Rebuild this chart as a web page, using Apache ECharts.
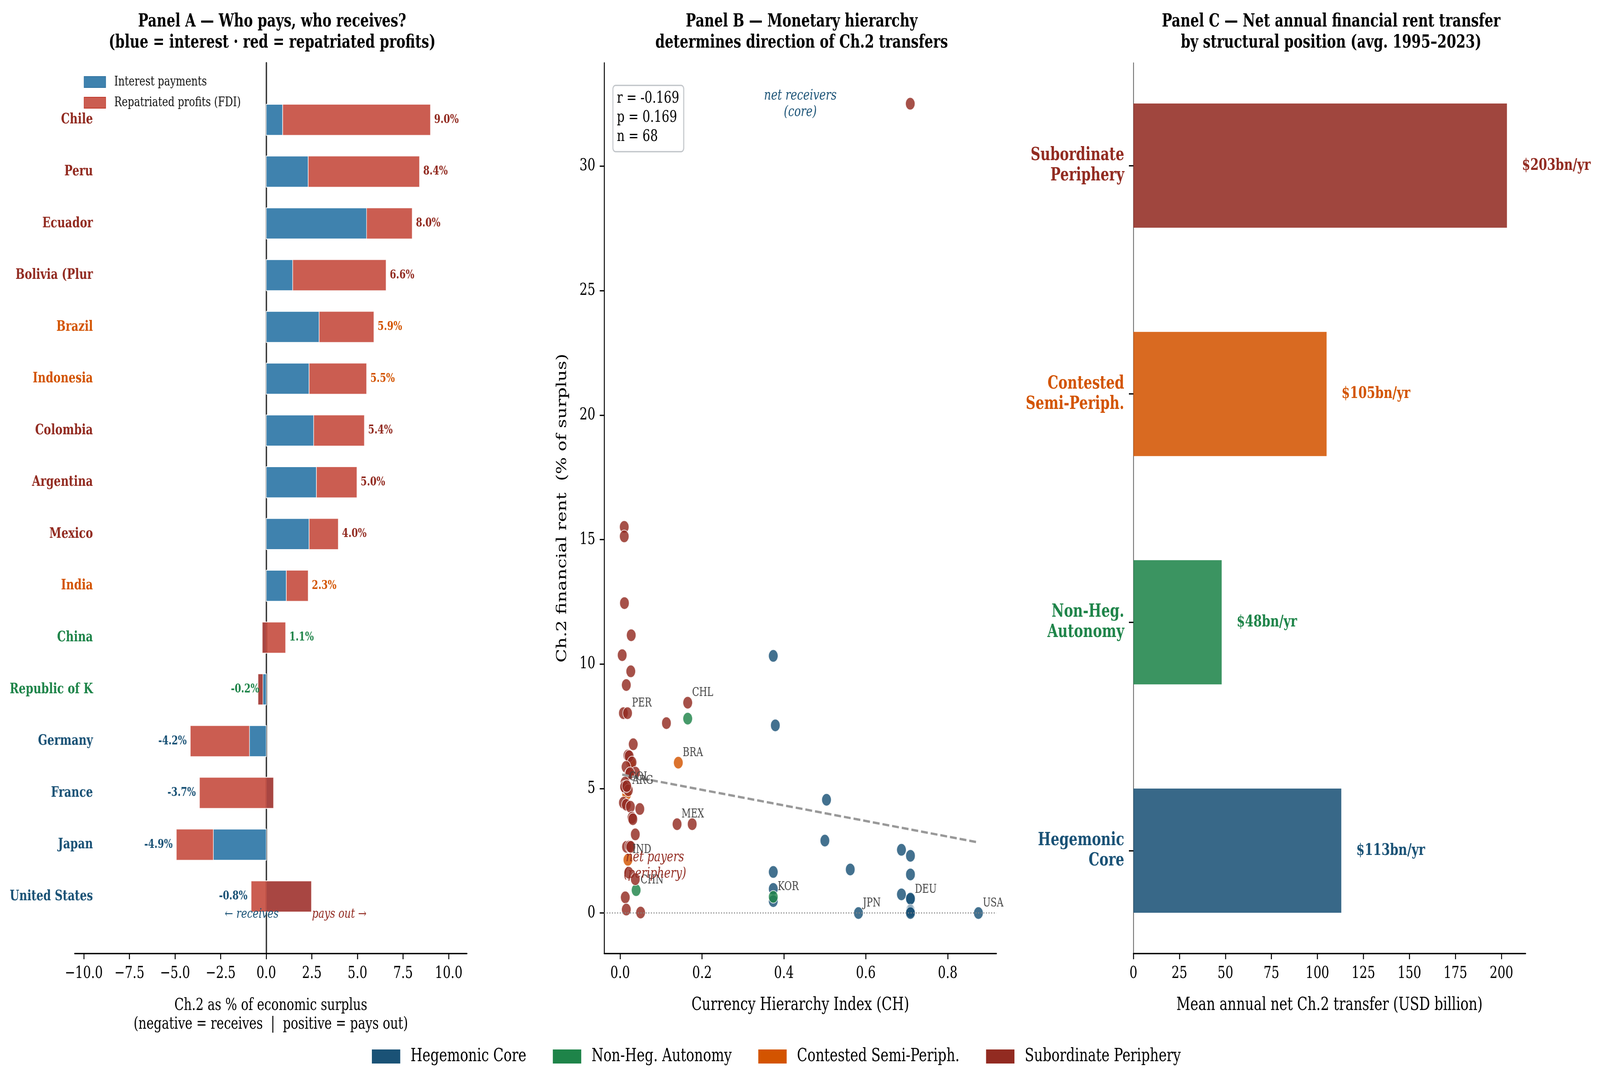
<!DOCTYPE html>
<html lang="en">
<head>
<meta charset="UTF-8">
<title>Ch.2 financial rent transfers</title>
<script src="https://cdn.jsdelivr.net/npm/echarts@6/dist/echarts.min.js"></script>
<style>
  html, body { margin: 0; padding: 0; background: #fff; overflow: hidden; width: 100%; height: 100%; }
  #wrap { position: fixed; left: 0; top: 0; width: 100vw; height: 100vh; overflow: hidden; background: #fff; }
  #main { position: absolute; left: 0; top: 0; width: 5421px; height: 2778px; transform-origin: 0 0; }
</style>
</head>
<body>
<div id="wrap"><div id="main"></div></div>
<script>
// ---------- Panel A: Ch.2 as % of economic surplus ----------
var countries = ['Chile', 'Peru', 'Ecuador', 'Bolivia (Plur', 'Brazil', 'Indonesia', 'Colombia', 'Argentina',
                 'Mexico', 'India', 'China', 'Republic of K', 'Germany', 'France', 'Japan', 'United States'];
var countryGroup = ['sub', 'sub', 'sub', 'sub', 'con', 'con', 'sub', 'sub', 'sub', 'con', 'non', 'non', 'heg', 'heg', 'heg', 'heg'];
var interestPay  = [0.9, 2.3, 5.5, 1.45, 2.9, 2.35, 2.6, 2.75, 2.35, 1.1, -0.22, -0.45, -0.92, 0.4, -2.9, 2.48];
var repatProfits = [8.1, 6.1, 2.5, 5.12, 3.0, 3.15, 2.78, 2.22, 1.6, 1.2, 1.28, 0.27, -3.24, -4.06, -2.03, -3.31];
var netShare     = [9.0, 8.4, 8.0, 6.6, 5.9, 5.5, 5.4, 5.0, 4.0, 2.3, 1.1, -0.2, -4.2, -3.7, -4.9, -0.8];
var ticksA = [-10, -7.5, -5, -2.5, 0, 2.5, 5, 7.5, 10];

// ---------- Panel B: currency hierarchy vs Ch.2 rent ----------
var hegCH   = [0.374, 0.379, 0.504, 0.500, 0.562, 0.687, 0.709, 0.709, 0.687, 0.709, 0.709, 0.709, 0.709, 0.709, 0.582, 0.875, 0.374, 0.374, 0.374];
var hegRent = [10.33, 7.54, 4.55, 2.91, 1.75, 2.54, 2.30, 1.55, 0.75, 0.55, 0.58, 0.10, 0.05, 0.0, 0.0, 0.0, 1.65, 0.97, 0.48];
var nonCH   = [0.165, 0.039, 0.374];
var nonRent = [7.81, 0.92, 0.65];
var conCH   = [0.142, 0.019, 0.016, 0.026];
var conRent = [6.04, 2.14, 4.78, 6.03];
var subCH   = [0.010, 0.010, 0.0105, 0.027, 0.005, 0.026, 0.015, 0.008, 0.018, 0.113, 0.165, 0.032, 0.019, 0.022,
               0.029, 0.0145, 0.0375, 0.022, 0.024, 0.012, 0.012, 0.011, 0.020, 0.008, 0.015, 0.025, 0.048, 0.029,
               0.031, 0.139, 0.176, 0.037, 0.0155, 0.023, 0.026, 0.021, 0.037, 0.0125, 0.015, 0.050, 0.7085, 0.016];
var subRent = [15.51, 15.13, 12.45, 11.16, 10.36, 9.71, 9.16, 8.03, 8.03, 7.63, 8.45, 6.78, 6.33, 6.30,
               6.05, 5.87, 5.64, 5.58, 5.62, 5.24, 5.04, 5.07, 4.93, 4.43, 4.35, 4.27, 4.18, 3.83,
               3.77, 3.57, 3.57, 3.16, 2.66, 2.68, 2.66, 1.62, 1.36, 0.63, 0.14, 0.02, 32.51, 5.10];
var codeNames = ['PER', 'CHL', 'BRA', 'COL', 'ARG', 'MEX', 'IND', 'CHN', 'KOR', 'JPN', 'DEU', 'USA'];
var codeCH    = [0.018, 0.165, 0.142, 0.011, 0.019, 0.139, 0.019, 0.039, 0.374, 0.582, 0.709, 0.875];
var codeRent  = [8.03, 8.45, 6.04, 5.07, 4.92, 3.57, 2.14, 0.92, 0.65, 0.0, 0.55, 0.0];
var trendCH   = [0.005, 0.871];
var trendRent = [5.56, 2.85];
var ticksBx = [0, 0.2, 0.4, 0.6, 0.8];
var ticksBy = [0, 5, 10, 15, 20, 25, 30];

// ---------- Panel C: mean annual net transfer ----------
var positions = ['Hegemonic\nCore', 'Non-Heg.\nAutonomy', 'Contested\nSemi-Periph.', 'Subordinate\nPeriphery'];
var posGroup  = ['heg', 'non', 'con', 'sub'];
var transfers = [113, 48, 105, 203];
var ticksC = [0, 25, 50, 75, 100, 125, 150, 175, 200];

var FONT = 'DejaVu Serif';
var groupColor = { heg: '#1a5276', non: '#1e8449', con: '#d35400', sub: '#922b21' };
var groupName = { heg: 'Hegemonic Core', non: 'Non-Heg. Autonomy', con: 'Contested Semi-Periph.', sub: 'Subordinate Periphery' };

function zip(xs, ys) {
    return xs.map(function (x, i) { return [x, ys[i]]; });
}

// horizontal bar from value(0) to value(1) at row value(2)
function barRenderer(fill, opacity, halfH, stroke) {
    return function (params, api) {
        var a = api.coord([api.value(0), api.value(2) - halfH]);
        var b = api.coord([api.value(1), api.value(2) + halfH]);
        var f = typeof fill === 'function' ? fill(params.dataIndex) : fill;
        return {
            type: 'rect',
            shape: { x: Math.min(a[0], b[0]), y: Math.min(a[1], b[1]),
                     width: Math.abs(b[0] - a[0]), height: Math.abs(b[1] - a[1]) },
            style: { fill: f, opacity: opacity, stroke: stroke || null, lineWidth: stroke ? 2 : 0 }
        };
    };
}

// text placed at data point (value(0), value(1))
function textRenderer(getText, getStyle) {
    return function (params, api) {
        var p = api.coord([api.value(0), api.value(1)]);
        var s = getStyle(params.dataIndex);
        return {
            type: 'text',
            x: p[0] + (s.dx || 0),
            y: p[1] + (s.dy || 0),
            style: { text: getText(params.dataIndex), fill: s.color, font: s.font,
                     align: s.align || 'left', verticalAlign: 'middle', lineHeight: s.lineHeight || null }
        };
    };
}

function fmtMinus(v, d) {
    return v < 0 ? '\u2212' + Math.abs(v).toFixed(d) : v.toFixed(d);
}

var axisBlack = { color: '#000', width: 3.3 };

// the layout is measured on the 5421x2778 picture; map it onto the window
var dom = document.getElementById('main');
var sx = window.innerWidth / 5421;
var sy = window.innerHeight / 2778;
dom.style.transform = 'scale(' + sx + ',' + sy + ')';
var myChart = echarts.init(dom, null, { devicePixelRatio: Math.max(sx, sy) * (window.devicePixelRatio || 1) });

// Panel A key (interest / profits), drawn as plain graphics
function keyItem(top, fill, stroke, label) {
    return {
        type: 'group', left: 284, top: top,
        children: [
            { type: 'rect', shape: { x: 0, y: 0, width: 73, height: 28 },
              style: { fill: fill, stroke: stroke, lineWidth: 2 } },
            { type: 'text', x: 102, y: 14,
              style: { text: label, font: '34px "DejaVu Serif"', fill: '#111', verticalAlign: 'middle' } }
        ]
    };
}

var option = {
    animation: false,
    backgroundColor: '#fff',
    textStyle: { fontFamily: FONT },
    title: [
        { text: 'Panel A \u2014 Who pays, who receives?\n(blue = interest \u00b7 red = repatriated profits)',
          left: 917, top: 24, textAlign: 'center',
          textStyle: { fontFamily: FONT, fontSize: 46, fontWeight: 'bold', lineHeight: 54, color: '#000' } },
        { text: 'Panel B \u2014 Monetary hierarchy\ndetermines direction of Ch.2 transfers',
          left: 2711, top: 24, textAlign: 'center',
          textStyle: { fontFamily: FONT, fontSize: 46, fontWeight: 'bold', lineHeight: 54, color: '#000' } },
        { text: 'Panel C \u2014 Net annual financial rent transfer\nby structural position (avg. 1995\u20132023)',
          left: 4505, top: 24, textAlign: 'center',
          textStyle: { fontFamily: FONT, fontSize: 46, fontWeight: 'bold', lineHeight: 54, color: '#000' } }
    ],
    legend: {
        orient: 'horizontal', left: 1255, top: 2677, itemWidth: 96, itemHeight: 36, itemGap: 90,
        icon: 'rect', selectedMode: false,
        textStyle: { fontFamily: FONT, fontSize: 46, color: '#000', padding: [0, 0, 0, 30] },
        data: ['heg', 'non', 'con', 'sub'].map(function (g) {
            return { name: groupName[g], itemStyle: { color: groupColor[g], opacity: 1, borderWidth: 0 } };
        })
    },
    grid: [
        { left: 253, top: 161, width: 1329, height: 2280 },
        { left: 2047, top: 161, width: 1329, height: 2280 },
        { left: 3840, top: 161, width: 1329, height: 2280 }
    ],
    xAxis: [
        {
            type: 'value', gridIndex: 0, min: -10.5, max: 11,
            axisLine: { onZero: false, lineStyle: axisBlack },
            axisTick: { customValues: ticksA, length: 15, lineStyle: axisBlack },
            axisLabel: { customValues: ticksA, fontSize: 42, color: '#000', margin: 31,
                         formatter: function (v) { return fmtMinus(v, 1); } },
            splitLine: { show: false },
            name: 'Ch.2 as % of economic surplus\n(negative = receives  |  positive = pays out)',
            nameLocation: 'middle', nameGap: 110,
            nameTextStyle: { fontFamily: FONT, fontSize: 42, lineHeight: 48, color: '#000' }
        },
        {
            type: 'value', gridIndex: 1, min: -0.039, max: 0.919,
            axisLine: { onZero: false, lineStyle: axisBlack },
            axisTick: { customValues: ticksBx, length: 15, lineStyle: axisBlack },
            axisLabel: { customValues: ticksBx, fontSize: 42, color: '#000', margin: 31,
                         formatter: function (v) { return v.toFixed(1); } },
            splitLine: { show: false },
            name: 'Currency Hierarchy Index (CH)', nameLocation: 'middle', nameGap: 110,
            nameTextStyle: { fontFamily: FONT, fontSize: 46, color: '#000' }
        },
        {
            type: 'value', gridIndex: 2, min: 0, max: 213.15,
            axisLine: { onZero: false, lineStyle: axisBlack },
            axisTick: { customValues: ticksC, length: 15, lineStyle: axisBlack },
            axisLabel: { customValues: ticksC, fontSize: 42, color: '#000', margin: 31,
                         formatter: function (v) { return String(v); } },
            splitLine: { show: false },
            name: 'Mean annual net Ch.2 transfer (USD billion)', nameLocation: 'middle', nameGap: 110,
            nameTextStyle: { fontFamily: FONT, fontSize: 46, color: '#000' }
        }
    ],
    yAxis: [
        {
            type: 'value', gridIndex: 0, inverse: true, min: -1.1, max: 16.1,
            axisLine: { show: true, onZero: true, lineStyle: { color: '#333', width: 4.5 } },
            axisTick: { show: false }, axisLabel: { show: false }, splitLine: { show: false }
        },
        {
            type: 'value', gridIndex: 1, min: -1.62, max: 34.15,
            axisLine: { show: true, onZero: false, lineStyle: axisBlack },
            axisTick: { customValues: ticksBy, length: 15, lineStyle: axisBlack },
            axisLabel: { customValues: ticksBy, fontSize: 42, color: '#000', margin: 30 },
            splitLine: { show: false },
            name: 'Ch.2 financial rent  (% of surplus)', nameLocation: 'middle', nameGap: 118,
            nameTextStyle: { fontFamily: FONT, fontSize: 46, color: '#000' }
        },
        {
            type: 'value', gridIndex: 2, min: -0.45, max: 3.45,
            axisLine: { show: true, onZero: false, lineStyle: { color: '#555', width: 2.5 } },
            axisTick: { customValues: [0, 1, 2, 3], length: 15, lineStyle: axisBlack },
            axisLabel: {
                customValues: [0, 1, 2, 3], fontSize: 46, fontWeight: 'bold', lineHeight: 52, margin: 31,
                formatter: function (v) { return positions[Math.round(v)]; },
                color: function (v) { return groupColor[posGroup[Math.round(+v)]]; }
            },
            splitLine: { show: false }
        }
    ],
    series: [
        // ----- Panel A -----
        {
            type: 'custom', name: 'Interest payments', xAxisIndex: 0, yAxisIndex: 0,
            data: interestPay.map(function (v, i) { return [0, v, i]; }),
            encode: { x: [0, 1], y: 2 },
            renderItem: barRenderer('#3f82ae', 1, 0.3, '#fff')
        },
        {
            type: 'custom', name: 'Repatriated profits (FDI)', xAxisIndex: 0, yAxisIndex: 0,
            data: repatProfits.map(function (v, i) { return [interestPay[i], interestPay[i] + v, i]; }),
            encode: { x: [0, 1], y: 2 },
            renderItem: barRenderer('#c0392b', 0.82, 0.3, '#fff')
        },
        {
            type: 'custom', xAxisIndex: 0, yAxisIndex: 0, z: 4,
            data: countries.map(function (c, i) { return [-9.5, i]; }),
            renderItem: textRenderer(
                function (i) { return countries[i]; },
                function (i) { return { color: groupColor[countryGroup[i]], font: 'bold 37px "DejaVu Serif"', align: 'right' }; })
        },
        {
            type: 'custom', xAxisIndex: 0, yAxisIndex: 0, z: 4,
            data: netShare.map(function (v, i) {
                var end = interestPay[i] + repatProfits[i];
                return [end >= 0 ? end + 0.2 : end - 0.2, i];
            }),
            renderItem: textRenderer(
                function (i) { return netShare[i].toFixed(1) + '%'; },
                function (i) { return { color: groupColor[countryGroup[i]], font: 'bold 31px "DejaVu Serif"',
                                        align: netShare[i] >= 0 ? 'left' : 'right' }; })
        },
        {
            type: 'custom', xAxisIndex: 0, yAxisIndex: 0, z: 4,
            data: [[-0.8, 15.35], [4.0, 15.35]],
            renderItem: textRenderer(
                function (i) { return ['\u2190 receives', 'pays out \u2192'][i]; },
                function (i) { return { color: [groupColor.heg, groupColor.sub][i], font: 'italic 34px "DejaVu Serif"', align: 'center' }; })
        },
        // ----- Panel B -----
        {
            type: 'scatter', name: groupName.heg, xAxisIndex: 1, yAxisIndex: 1,
            data: zip(hegCH, hegRent), symbolSize: 32,
            itemStyle: { color: groupColor.heg, opacity: 0.82, borderColor: '#fff', borderWidth: 2 },
            markLine: {
                silent: true, symbol: 'none', label: { show: false },
                lineStyle: { color: '#888', type: [3.3, 5.5], width: 3 },
                data: [{ yAxis: 0 }]
            }
        },
        {
            type: 'scatter', name: groupName.non, xAxisIndex: 1, yAxisIndex: 1,
            data: zip(nonCH, nonRent), symbolSize: 32,
            itemStyle: { color: groupColor.non, opacity: 0.82, borderColor: '#fff', borderWidth: 2 }
        },
        {
            type: 'scatter', name: groupName.con, xAxisIndex: 1, yAxisIndex: 1,
            data: zip(conCH, conRent), symbolSize: 32,
            itemStyle: { color: groupColor.con, opacity: 0.82, borderColor: '#fff', borderWidth: 2 }
        },
        {
            type: 'scatter', name: groupName.sub, xAxisIndex: 1, yAxisIndex: 1,
            data: zip(subCH, subRent), symbolSize: 32,
            itemStyle: { color: groupColor.sub, opacity: 0.82, borderColor: '#fff', borderWidth: 2 }
        },
        {
            type: 'line', xAxisIndex: 1, yAxisIndex: 1, z: 3, symbol: 'none', silent: true,
            data: zip(trendCH, trendRent),
            lineStyle: { color: '#999', width: 6, type: [23, 10] }
        },
        {
            type: 'custom', xAxisIndex: 1, yAxisIndex: 1, z: 4,
            data: zip(codeCH, codeRent),
            renderItem: textRenderer(
                function (i) { return codeNames[i]; },
                function () { return { color: '#444', font: '31px "DejaVu Serif"', dx: 15, dy: -25 }; })
        },
        {
            type: 'custom', xAxisIndex: 1, yAxisIndex: 1, z: 4,
            data: [[0.44, 32.5], [0.085, 1.9]],
            renderItem: textRenderer(
                function (i) { return ['net receivers\n(core)', 'net payers\n(periphery)'][i]; },
                function (i) { return { color: [groupColor.heg, groupColor.sub][i], font: 'italic 37px "DejaVu Serif"',
                                        align: 'center', lineHeight: 42 }; })
        },
        // ----- Panel C -----
        {
            type: 'custom', xAxisIndex: 2, yAxisIndex: 2,
            data: transfers.map(function (v, i) { return [0, v, i]; }),
            encode: { x: [0, 1], y: 2 },
            renderItem: barRenderer(function (i) { return groupColor[posGroup[i]]; }, 0.87, 0.272)
        },
        {
            type: 'custom', xAxisIndex: 2, yAxisIndex: 2, z: 4,
            data: transfers.map(function (v, i) { return [v + 8.1, i]; }),
            renderItem: textRenderer(
                function (i) { return '$' + transfers[i] + 'bn/yr'; },
                function (i) { return { color: groupColor[posGroup[i]], font: 'bold 41px "DejaVu Serif"' }; })
        }
    ],
    graphic: [
        keyItem(193, '#3f82ae', '#2f72a0', 'Interest payments'),
        keyItem(246, '#cb5d51', '#c0392b', 'Repatriated profits (FDI)'),
        {
            type: 'text', left: 2075, top: 217, z: 10,
            style: {
                text: 'r = -0.169\np = 0.169\nn = 68',
                font: '41px "DejaVu Serif"', fill: '#000', lineHeight: 49,
                backgroundColor: 'rgba(255,255,255,0.9)', borderColor: '#bfc3c7', borderWidth: 3,
                borderRadius: 8, padding: [8, 14, 12, 12]
            }
        }
    ]
};

myChart.setOption(option);
</script>
</body>
</html>
